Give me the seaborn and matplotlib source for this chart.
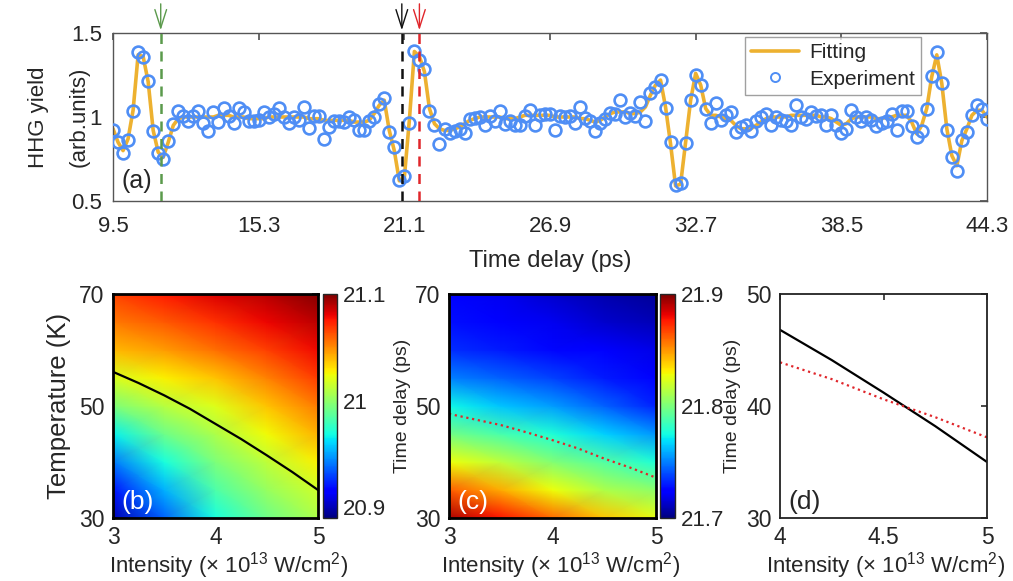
import numpy as np
import matplotlib
matplotlib.use("Agg")
import matplotlib.pyplot as plt
import seaborn as sns

# ---- panel (a): HHG yield vs time delay ----
t_start, t_step = 9.5, 0.2
experiment = [
    0.921, 0.852, 0.786, 0.861, 1.037, 1.384, 1.360, 1.214, 0.915, 0.786,
    0.751, 0.855, 0.959, 1.037, 1.007, 0.975, 1.007, 1.037, 0.965, 0.915,
    1.031, 0.971, 1.055, 1.007, 0.965, 1.051, 1.027, 0.975, 0.975, 0.981,
    1.027, 1.000, 1.019, 1.051, 1.001, 0.967, 1.001, 0.981, 1.057, 0.934,
    1.007, 1.006, 0.867, 0.941, 0.975, 0.975, 0.970, 1.001, 0.981, 0.921,
    0.921, 0.976, 1.000, 1.075, 1.114, 0.911, 0.822, 0.623, 0.646, 0.967,
    1.392, 1.338, 1.287, 1.037, 0.955, 0.841, 0.928, 0.905, 0.915, 0.931,
    0.905, 0.991, 0.995, 1.001, 0.952, 1.007, 0.975, 1.035, 0.961, 0.975,
    0.955, 0.952, 1.007, 1.041, 0.955, 1.011, 1.015, 1.015, 0.921, 1.006,
    1.001, 1.006, 0.967, 1.061, 0.995, 0.975, 0.917, 0.967, 0.987, 1.021,
    1.015, 1.103, 1.001, 1.021, 1.007, 1.091, 0.975, 1.143, 1.181, 1.219,
    1.056, 0.849, 0.596, 0.606, 0.847, 1.101, 1.250, 1.189, 1.048, 0.963,
    1.086, 0.981, 1.011, 1.028, 0.913, 0.939, 0.955, 0.919, 0.975, 1.001,
    1.015, 0.955, 1.001, 0.981, 0.975, 0.955, 1.074, 1.001, 0.987, 1.027,
    1.007, 1.011, 0.955, 1.011, 0.951, 0.904, 0.928, 1.042, 0.998, 0.978,
    1.001, 0.981, 0.949, 0.967, 0.975, 1.015, 0.922, 1.036, 1.035, 0.946,
    0.879, 0.916, 1.046, 1.243, 1.385, 1.201, 0.921, 0.763, 0.677, 0.863,
    0.909, 1.009, 1.069, 1.046, 0.986,
]
fitting = [
    0.93, 0.85, 0.80, 0.87, 1.04, 1.37, 1.36, 1.21, 0.92, 0.79,
    0.76, 0.85, 0.95, 0.99, 1.00, 1.00, 1.00, 1.00, 1.00, 1.00,
    1.00, 1.01, 1.01, 1.01, 1.00, 1.00, 1.00, 0.99, 0.99, 0.99,
    0.99, 1.00, 1.00, 1.00, 1.00, 1.00, 1.00, 1.00, 1.00, 0.99,
    0.99, 0.99, 0.98, 0.98, 0.98, 0.98, 0.98, 0.98, 0.97, 0.97,
    0.97, 0.98, 1.02, 1.07, 1.10, 0.92, 0.80, 0.62, 0.64, 0.98,
    1.39, 1.36, 1.27, 1.05, 0.96, 0.93, 0.92, 0.92, 0.93, 0.94,
    0.96, 0.98, 0.99, 1.00, 1.00, 1.00, 1.00, 1.00, 0.99, 0.99,
    0.99, 1.00, 1.01, 1.01, 1.01, 1.01, 1.01, 1.01, 1.00, 1.00,
    1.00, 1.00, 1.00, 0.99, 0.99, 0.98, 0.97, 0.98, 1.00, 1.02,
    1.03, 1.03, 1.03, 1.02, 1.02, 1.03, 1.06, 1.13, 1.19, 1.22,
    1.06, 0.84, 0.59, 0.60, 0.85, 1.10, 1.26, 1.19, 1.05, 1.01,
    1.01, 1.00, 0.99, 0.98, 0.95, 0.93, 0.93, 0.93, 0.95, 0.97,
    0.99, 1.00, 1.00, 1.00, 1.00, 1.01, 1.01, 1.01, 1.01, 1.01,
    1.01, 1.00, 1.00, 0.99, 0.97, 0.95, 0.96, 0.99, 1.00, 1.00,
    1.00, 1.00, 0.99, 0.99, 1.00, 1.00, 1.01, 1.01, 1.01, 0.97,
    0.90, 0.95, 1.05, 1.24, 1.37, 1.20, 0.93, 0.77, 0.71, 0.86,
    0.93, 1.01, 1.04, 1.04, 1.00,
]
delay = np.round(t_start + t_step * np.arange(len(experiment)), 2)
delay_ticks = [9.5, 15.3, 21.1, 26.9, 32.7, 38.5, 44.3]
marker_delays = [11.4, 21.0, 21.7]
marker_colors = ["#5b9a4c", "#111111", "#e0262b"]

# ---- panels (b)-(d) ----
intensity_grid = [3.0, 3.5, 4.0, 4.5, 5.0]
temp_grid = [30, 35, 40, 45, 50, 55, 60, 65, 70]
# rows: temperature, columns: intensity (time delay in ps)
delay_b = [
    [20.900, 20.936, 20.970, 20.991, 21.008],
    [20.920, 20.953, 20.983, 21.002, 21.016],
    [20.941, 20.970, 20.995, 21.012, 21.027],
    [20.966, 20.991, 21.008, 21.025, 21.041],
    [20.995, 21.010, 21.020, 21.037, 21.054],
    [21.018, 21.027, 21.037, 21.052, 21.068],
    [21.040, 21.046, 21.056, 21.067, 21.079],
    [21.054, 21.061, 21.070, 21.080, 21.089],
    [21.066, 21.075, 21.083, 21.090, 21.099],
]
delay_c = [
    [21.892, 21.878, 21.860, 21.840, 21.826],
    [21.862, 21.846, 21.828, 21.812, 21.804],
    [21.828, 21.816, 21.802, 21.790, 21.778],
    [21.798, 21.788, 21.778, 21.766, 21.754],
    [21.774, 21.764, 21.756, 21.744, 21.732],
    [21.750, 21.744, 21.738, 21.730, 21.724],
    [21.734, 21.730, 21.726, 21.722, 21.718],
    [21.728, 21.724, 21.720, 21.714, 21.710],
    [21.724, 21.720, 21.714, 21.708, 21.704],
]
line_intensity = [3.0, 3.25, 3.5, 3.75, 4.0, 4.25, 4.5, 4.75, 5.0]
black_curve = [56.1, 54.1, 51.9, 49.5, 46.8, 44.1, 41.2, 38.2, 35.0]
red_curve = [48.6, 47.6, 46.6, 45.3, 43.9, 42.4, 40.6, 39.0, 37.2]

sns.set_theme(style="white")
plt.rcParams["font.family"] = ["Liberation Sans", "DejaVu Sans"]
plt.rcParams["mathtext.fontset"] = "custom"
plt.rcParams["mathtext.rm"] = "Liberation Sans"
plt.rcParams["mathtext.it"] = "Liberation Sans:italic"
plt.rcParams["xtick.direction"] = "in"
plt.rcParams["ytick.direction"] = "in"

W, H = 1013, 581
fig = plt.figure(figsize=(W / 100, H / 100), dpi=100)


def px(l, t, r, b):
    return [l / W, 1 - b / H, (r - l) / W, (b - t) / H]


orange = "#edb130"
blue = "#4f8ef5"
xlabel_text = r"Intensity ($\times$ 10$^{13}$ W/cm$^2$)"

# ---------- (a) ----------
ax = fig.add_axes(px(113, 33, 987, 201))
sns.lineplot(x=delay, y=fitting, ax=ax, color=orange, lw=2.6, sort=False,
             estimator=None, label="Fitting", zorder=2)
sns.lineplot(x=delay, y=experiment, ax=ax, linestyle="none", marker="o",
             markersize=8.5, markerfacecolor="none", markeredgecolor=blue,
             markeredgewidth=1.9, sort=False, estimator=None,
             label="Experiment", zorder=3)
for xd, col in zip(marker_delays, marker_colors):
    ax.axvline(xd, color=col, lw=1.8, dashes=(4, 3), zorder=4)
    ax.annotate("", xy=(xd, 1.0), xytext=(xd, 1.19),
                xycoords=("data", "axes fraction"),
                arrowprops=dict(arrowstyle="->,head_length=1.1,head_width=0.35",
                                color=col, lw=1.0), annotation_clip=False)
ax.set_xlim(9.5, 44.3)
ax.set_ylim(0.5, 1.5)
ax.set_xticks(delay_ticks)
ax.set_xticklabels([f"{v:.1f}" for v in delay_ticks])
ax.set_yticks([0.5, 1.0, 1.5])
ax.set_yticklabels(["0.5", "1", "1.5"])
ax.tick_params(labelsize=16, top=True, right=True, length=5, color="#555555")
ax.tick_params(axis="x", pad=11)
ax.tick_params(axis="y", pad=8)
ax.set_xlabel("Time delay (ps)", fontsize=17, labelpad=9)
ax.set_ylabel("HHG yield\n(arb.units)", fontsize=16, linespacing=2.2)
ax.yaxis.set_label_coords(-0.027, 0.5)
for s in ax.spines.values():
    s.set_color("#555555")
    s.set_linewidth(1.0)
ax.text(0.01, 0.08, "(a)", transform=ax.transAxes, fontsize=18)
leg = ax.legend(loc="upper right", bbox_to_anchor=(0.925, 0.975), fontsize=15,
                frameon=True, fancybox=False, edgecolor="#888888",
                borderpad=0.3, handlelength=2.3, labelspacing=0.35,
                handletextpad=0.5, borderaxespad=0)
leg.get_frame().set_linewidth(1.0)
leg.legend_handles[1].set_markersize(6.5)
leg.legend_handles[1].set_markeredgewidth(1.4)

I_mesh, T_mesh = np.meshgrid(intensity_grid, temp_grid)


def heat_panel(rect, cbar_rect, data, vmin, vmax, cticks, clabels, curve, ccol,
               cstyle, ylabel, ylsize, ylpad, tag, xl_x):
    axh = fig.add_axes(px(*rect))
    mesh = axh.pcolormesh(I_mesh, T_mesh, np.array(data), shading="gouraud",
                          cmap="jet", vmin=vmin, vmax=vmax)
    sns.lineplot(x=line_intensity, y=curve, ax=axh, color=ccol, lw=1.6,
                 linestyle=cstyle, sort=False, estimator=None)
    axh.set_xlim(3, 5)
    axh.set_ylim(30, 70)
    axh.set_xticks([3, 4, 5])
    axh.set_yticks([30, 40, 50, 60, 70])
    axh.set_yticklabels(["30", "", "50", "", "70"])
    axh.tick_params(labelsize=16.5, top=True, right=True, length=4, pad=6,
                    color="#333333")
    axh.set_xlabel(xlabel_text, fontsize=16)
    axh.xaxis.set_label_coords(xl_x, -0.145)
    axh.xaxis.label.set_va("top")
    axh.set_ylabel(ylabel, fontsize=ylsize, labelpad=ylpad)
    for s in axh.spines.values():
        s.set_color("black")
        s.set_linewidth(2.0)
    axh.text(0.04, 0.04, tag, transform=axh.transAxes, fontsize=19,
             color="white")
    cax = fig.add_axes(px(*cbar_rect))
    cb = fig.colorbar(mesh, cax=cax)
    cb.set_ticks(cticks)
    cb.set_ticklabels(clabels)
    cb.ax.tick_params(labelsize=16, length=0, pad=4)
    cb.outline.set_linewidth(1.0)
    return axh


heat_panel((113, 294, 318, 518), (323, 294, 337, 518), delay_b, 20.89, 21.1,
           [20.9, 21.0, 21.1], ["20.9", "21", "21.1"], black_curve, "black",
           "-", "Temperature (K)", 18.5, 6, "(b)", 0.565)
heat_panel((449, 294, 656, 518), (660, 294, 675, 518), delay_c, 21.7, 21.9,
           [21.7, 21.8, 21.9], ["21.7", "21.8", "21.9"], red_curve, "#e0262b",
           ":", "Time delay (ps)", 14, 3, "(c)", 0.54)

# ---------- (d) ----------
axd = fig.add_axes(px(780, 294, 987, 518))
sns.lineplot(x=line_intensity[4:], y=black_curve[4:], ax=axd, color="black",
             lw=1.6, sort=False, estimator=None)
sns.lineplot(x=line_intensity[4:], y=red_curve[4:], ax=axd, color="#e0262b",
             lw=1.6, linestyle=":", sort=False, estimator=None)
axd.set_xlim(4, 5)
axd.set_ylim(30, 50)
axd.set_xticks([4, 4.5, 5])
axd.set_xticklabels(["4", "4.5", "5"])
axd.set_yticks([30, 40, 50])
axd.tick_params(labelsize=16.5, top=True, right=True, length=4, pad=6,
                color="#333333")
axd.set_xlabel(xlabel_text, fontsize=16)
axd.xaxis.set_label_coords(0.51, -0.145)
axd.xaxis.label.set_va("top")
axd.set_ylabel("Time delay (ps)", fontsize=14, labelpad=4)
for s in axd.spines.values():
    s.set_color("#222222")
    s.set_linewidth(1.3)
axd.text(0.04, 0.04, "(d)", transform=axd.transAxes, fontsize=19)

fig.savefig("out.png", dpi=100)
